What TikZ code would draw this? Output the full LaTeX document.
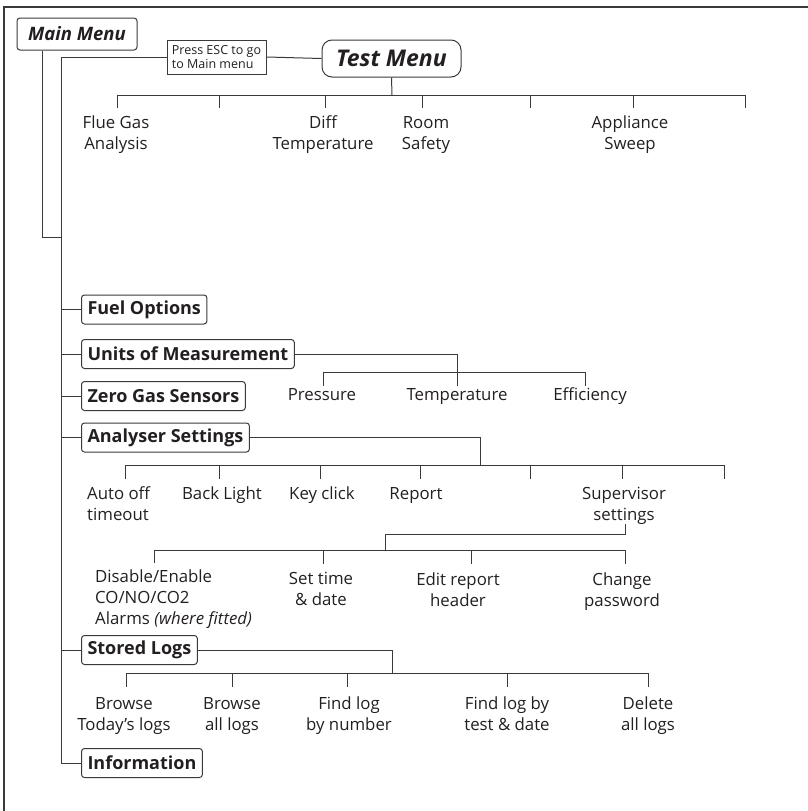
\documentclass[tikz,border=0pt]{standalone}
\usepackage{fontspec}
\setmainfont{Open Sans}
\definecolor{ink}{HTML}{3A3A3A}
\definecolor{txt}{HTML}{231F20}
\begin{document}
\begin{tikzpicture}[x=1pt,y=-1pt,
  line/.style={draw=ink, line width=1pt},
  % labels are placed by the baseline of their last line
  lbl/.style={text=txt, font=\fontsize{16.8}{21}\selectfont, inner sep=0pt, align=center, anchor=base},
  lbll/.style={lbl, align=left, anchor=base west},
  menubox/.style={draw=ink, line width=1pt, rounded corners=3pt, text=txt,
    font=\fontsize{18}{20}\selectfont\bfseries, minimum height=29pt,
    inner xsep=6pt, inner ysep=0pt, anchor=west},
]
\useasboundingbox (0,0) rectangle (808,811);

% outer frame (top and left edges)
\draw[line, line width=1.3pt] (808,7) -- (4,7) -- (4,811);

% top level
\node[menubox, anchor=center, minimum width=120pt, minimum height=32pt,
  font=\fontsize{18.5}{20}\selectfont\bfseries\itshape] (main) at (77,34) {Main Menu};
\node[draw=ink, line width=1pt, text=txt, align=left, inner sep=0pt,
  minimum width=99pt, minimum height=34pt,
  font=\fontsize{12.5}{14.5}\selectfont] (esc) at (216.5,57) {Press ESC to go\\to Main menu};
\node[draw=ink, line width=1pt, rounded corners=10pt, text=txt,
  minimum width=139pt, minimum height=37pt, inner xsep=0pt,
  font=\fontsize{23}{26}\selectfont\bfseries\itshape] (test) at (391.5,58.5) {Test Menu};

% spine
\coordinate (spinetop) at (61,57);
\coordinate (spinebot) at (61,763);
\coordinate (mmx) at (42,237);
\draw[line] (main.south -| mmx) -- (mmx) -- (mmx -| spinetop);
\draw[line] (esc.west) -- (spinetop) -- (spinebot);
\draw[line] (esc.east) -- (test.west);

% Test menu entries
\coordinate (tbar) at (392,95);
\draw[line] (test.south) -- (tbar);
\draw[line] (117,108) -- (117,95) -- (745,95) -- (745,108);
\foreach \x in {219,325,422,530,633} \draw[line] (\x,95) -- (\x,108);
\node[lbl] (flue) at (116,149) {Flue Gas\\Analysis};
\node[lbl] (diff) at (323,149) {Diff\\Temperature};
\node[lbl] (room) at (426,149) {Room\\Safety};
\node[lbl] (sweep) at (630,149) {Appliance\\Sweep};

% main menu entries
\node[menubox] (fuel) at (81,309.5) {Fuel Options};
\node[menubox] (units) at (81,354) {Units of Measurement};
\node[menubox] (zero) at (81,396) {Zero Gas Sensors};
\node[menubox] (anal) at (81,437.5) {Analyser Settings};
\node[menubox] (logs) at (81,650) {Stored Logs};
\node[menubox] (info) at (81,763) {Information};
\foreach \n in {fuel,units,zero,anal,logs,info}
  \draw[line] (\n.west) -- (\n.west -| spinetop);

% Units of measurement
\coordinate (ujoin) at (457,372);
\draw[line] (units.east) -- (units.east -| ujoin) -- (ujoin);
\draw[line] (323,386) -- (323,372) -- (585,372) -- (585,386);
\draw[line] (ujoin) -- (457,386);
\node[lbl] (press) at (322,400) {Pressure};
\node[lbl] (temp) at (457,400) {Temperature};
\node[lbl] (eff) at (590,400) {Efficiency};

% Analyser settings
\coordinate (ajoin) at (480,465);
\draw[line] (anal.east) -- (anal.east -| ajoin) -- (ajoin);
\draw[line] (125,479) -- (125,465) -- (724,465) -- (724,479);
\foreach \x in {219,320,420,530,622} \draw[line] (\x,465) -- (\x,479);
\node[lbll] (auto) at (87,520) {Auto off\\timeout};
\node[lbl] (back) at (222,499) {Back Light};
\node[lbl] (key) at (322,499) {Key click};
\node[lbl] (report) at (416,499) {Report};
\node[lbl] (sup) at (624,520) {Supervisor\\settings};

% Supervisor settings
\coordinate (sdrop) at (625,534);
\coordinate (sjoin) at (385,550);
\draw[line] (sdrop |- sup.south) -- (sdrop) -- (sdrop -| sjoin) -- (sjoin);
\draw[line] (154,563) -- (154,550) -- (625,550) -- (625,564);
\foreach \x in {323,471} \draw[line] (\x,550) -- (\x,564);
\node[lbll] (alarm) at (95,624) {Disable/Enable\\CO/NO/CO2\\Alarms \itshape(where fitted)};
\node[lbl] (time) at (321,605) {Set time\\\& date};
\node[lbl] (header) at (458,606) {Edit report\\header};
\node[lbl] (pass) at (622,606) {Change\\password};

% Stored logs
\coordinate (ljoin) at (392,673);
\draw[line] (logs.east) -- (logs.east -| ljoin) -- (ljoin);
\draw[line] (126,687) -- (126,673) -- (648,673) -- (648,687);
\foreach \x in {232,347,507} \draw[line] (\x,673) -- (\x,687);
\node[lbl] (today) at (124,730) {Browse\\Today’s logs};
\node[lbl] (all) at (232,730) {Browse\\all logs};
\node[lbl] (num) at (349,730) {Find log\\by number};
\node[lbl] (bydate) at (507,730) {Find log by\\test \& date};
\node[lbl] (del) at (648,730) {Delete\\all logs};
\end{tikzpicture}
\end{document}
